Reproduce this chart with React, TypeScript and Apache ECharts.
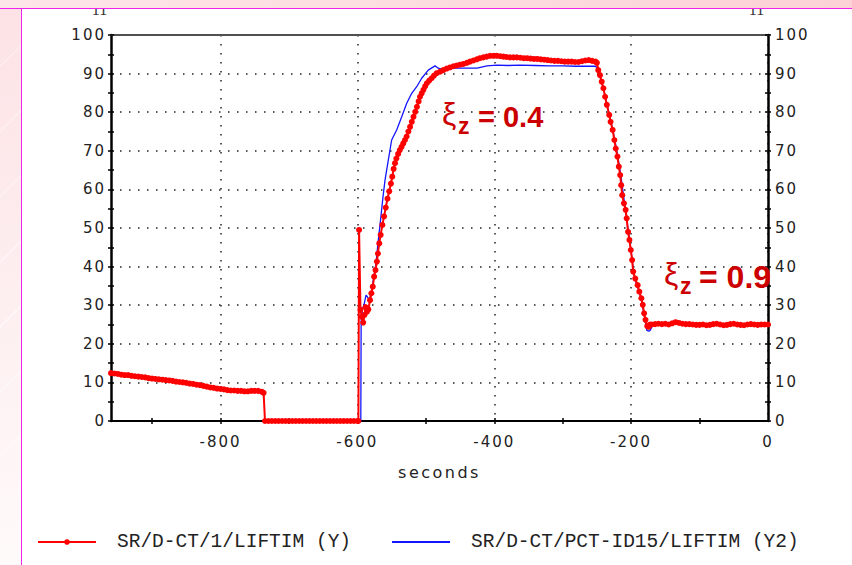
import React, { useEffect, useRef } from "react";
import * as echarts from "echarts";

// ---- data (seconds, lifetime) ----
const redSeries: [number, number][] = [
  [-960, 12.4], [-955, 12.3], [-950, 12.2], [-945, 12.0], [-940, 11.9], [-935, 11.9], [-930, 11.7], [-925, 11.6],
  [-920, 11.5], [-915, 11.4], [-910, 11.3], [-905, 11.1], [-900, 11.0], [-895, 10.9], [-890, 10.8], [-885, 10.7],
  [-880, 10.6], [-875, 10.5], [-870, 10.4], [-865, 10.2], [-860, 10.1], [-855, 10.0], [-850, 9.9], [-845, 9.7],
  [-840, 9.6], [-835, 9.4], [-830, 9.3], [-825, 9.1], [-820, 8.9], [-815, 8.7], [-810, 8.6], [-805, 8.4],
  [-800, 8.3], [-795, 8.2], [-790, 8.0], [-785, 7.9], [-780, 7.9], [-775, 7.8], [-770, 7.8], [-765, 7.7],
  [-760, 7.7], [-755, 7.8], [-750, 7.8], [-745, 7.8], [-740, 7.6], [-737, 7.3],
  [-735, 0], [-730, 0], [-725, 0], [-720, 0], [-715, 0], [-710, 0], [-705, 0], [-700, 0], [-695, 0], [-690, 0],
  [-685, 0], [-680, 0], [-675, 0], [-670, 0], [-665, 0], [-660, 0], [-655, 0], [-650, 0], [-645, 0], [-640, 0],
  [-635, 0], [-630, 0], [-625, 0], [-620, 0], [-615, 0], [-610, 0], [-605, 0], [-600, 0], [-598.5, 0],
  [-597.5, 49.5], [-595.5, 28.8], [-593.5, 27.0], [-591.5, 25.5], [-589.5, 27.5], [-588.0, 29.5], [-586.0, 28.3],
  [-584.0, 28.9], [-581.5, 31.3], [-579.5, 33.1], [-577.5, 34.8], [-575.5, 37.4], [-573.5, 39.1], [-571.5, 41.3],
  [-570.0, 43.4], [-568.0, 46.0], [-566.0, 48.2], [-563.5, 50.8], [-561.0, 53.0], [-558.5, 55.3], [-556.0, 57.6],
  [-553.5, 59.5], [-551.0, 61.5], [-549.0, 63.3], [-547.0, 65.3], [-545.0, 66.8], [-543.0, 68.0], [-540.5, 69.2],
  [-538.0, 70.2], [-535.5, 71.0], [-533.0, 71.9], [-530.5, 72.8], [-528.0, 73.7], [-525.5, 75.0], [-523.0, 76.2],
  [-520.5, 77.5], [-518.0, 78.8], [-515.5, 80.1], [-513.0, 81.4], [-510.5, 82.8], [-508.5, 84.0], [-506.0, 84.9],
  [-503.5, 85.8], [-501.0, 86.7], [-498.5, 87.5], [-495.0, 88.2], [-491.5, 88.8], [-488.0, 89.5], [-484.0, 90.1],
  [-479.0, 90.5], [-474.5, 90.9], [-469.5, 91.3], [-464.5, 91.6], [-459.5, 91.9], [-455.0, 92.1], [-450.0, 92.3],
  [-445.0, 92.5], [-440.0, 92.8], [-435.5, 93.1], [-430.5, 93.4], [-425.5, 93.7], [-421.0, 94.0], [-416.0, 94.2],
  [-411.0, 94.4], [-406.0, 94.6], [-401.0, 94.6], [-396.0, 94.6], [-391.0, 94.5], [-386.5, 94.4], [-382.0, 94.3],
  [-377.0, 94.2], [-372.0, 94.2], [-367.0, 94.2], [-362, 94.1], [-357, 94.0], [-352, 94.0], [-347, 93.9],
  [-342, 93.8], [-337, 93.8], [-332, 93.7], [-327, 93.6], [-322, 93.5], [-317, 93.4], [-312, 93.3], [-307, 93.3],
  [-302, 93.2], [-297, 93.1], [-292, 93.1], [-287, 93.1], [-282, 93.0], [-277, 93.0], [-272, 93.2], [-267, 93.4],
  [-262, 93.5], [-257, 93.3], [-252, 93.1],
  [-250.0, 92.8], [-248.0, 90.9], [-245.5, 89.6], [-243.0, 87.9], [-240.5, 86.2], [-238.0, 84.0], [-235.5, 81.9],
  [-232.0, 79.3], [-230.0, 77.5], [-227.0, 75.4], [-224.5, 72.8], [-222.5, 70.6], [-220.0, 68.5], [-218.0, 65.9],
  [-216.0, 63.7], [-214.5, 61.1], [-213.0, 58.5], [-210.5, 56.4], [-208.0, 54.7], [-206.5, 52.5], [-204.5, 49.0],
  [-202.5, 46.9], [-200.5, 44.3], [-198.5, 41.7], [-197.0, 38.7], [-194.0, 36.9], [-190.5, 35.2], [-188.0, 33.5],
  [-185.0, 31.8], [-183.0, 30.1], [-181.0, 27.9], [-179.0, 26.2], [-176.5, 24.6], [-174.5, 24.4], [-172.5, 25.0],
  [-170, 25.0], [-165, 25.1], [-160, 25.2], [-155, 25.1], [-150, 25.2], [-145, 25.0], [-140, 25.3], [-135, 25.6],
  [-130, 25.4], [-125, 25.2], [-120, 25.1], [-115, 25.1], [-110, 25.0], [-105, 24.9], [-100, 24.9], [-95, 25.0],
  [-90, 24.8], [-85, 24.9], [-80, 25.1], [-75, 25.2], [-70, 25.0], [-65, 24.8], [-60, 24.9], [-55, 25.1],
  [-50, 25.2], [-45, 25.0], [-40, 24.9], [-35, 24.8], [-30, 25.0], [-25, 25.1], [-20, 25.0], [-15, 24.9],
  [-10, 25.0], [-5, 25.0], [0, 25.0],
];

const blueSeries: [number, number][] = [
  [-595.0, 0], [-594.5, 25.7], [-592.8, 28.8], [-590.3, 30.1], [-587.4, 32.6], [-585.5, 32.2], [-582.6, 31.3],
  [-579.1, 33.9], [-576.7, 36.5], [-572.8, 40.9], [-569.4, 46.9], [-566.0, 52.3], [-562.6, 58.0], [-559.6, 62.4],
  [-554.8, 67.6], [-549.9, 72.8], [-542.6, 75.4], [-535.2, 78.8], [-527.9, 82.3], [-520.6, 84.9], [-513.3, 86.6],
  [-506.0, 88.8], [-496.4, 90.9], [-486.6, 92.0], [-481.8, 91.4], [-476.8, 91.1], [-464.7, 91.4], [-445.7, 91.4],
  [-425.2, 91.4], [-410.6, 92.0], [-396.0, 92.2], [-380, 92.1], [-362.4, 92.2], [-340, 92.1], [-320, 92.0],
  [-300, 92.0], [-280, 91.9], [-260, 91.9], [-252, 91.9],
  [-250, 91.5], [-245, 89.0], [-240, 85.8], [-235, 81.8], [-230, 78.0], [-225, 73.8], [-220, 69.2], [-215, 63.5],
  [-210, 57.0], [-205, 50.5], [-200, 44.0], [-197, 39.5], [-194, 36.5], [-190, 34.5], [-186, 32.0], [-182, 28.5],
  [-179, 25.5], [-177, 23.5], [-174, 23.3], [-172, 23.5], [-170, 24.3], [-167, 25.0], [-150, 25.1], [-130, 25.3],
  [-110, 25.0], [-90, 24.9], [-70, 25.0], [-50, 25.1], [-30, 25.0], [-10, 25.0], [0, 25.0],
];

const xRange = [-960, 0];
const yRange = [0, 100];
const xLabelValues = [-800, -600, -400, -200, 0];
const xMinorTickValues = [-900, -800, -700, -600, -500, -400, -300, -200, -100];
const seriesNames = ["SR/D-CT/1/LIFTIM (Y)", "SR/D-CT/PCT-ID15/LIFTIM (Y2)"];
const xTitle = "seconds";
const annotations = [
  { value: "0.4", x: 443, y: 117, size: 29, gap: 35 },
  { value: "0.9", x: 665, y: 277, size: 32, gap: 34 },
];
const cornerMarks = ["11", "11"];

const AXFONT = "DejaVu Sans";
const MONO = "Liberation Mono";
const TICKC = "#222";
const dotted = { type: [1.5, 7.5] as any, color: "#222", width: 1.5 };

function buildOption() {
  const yBase = {
    type: "value",
    min: yRange[0],
    max: yRange[1],
    interval: 10,
    splitLine: { show: false },
  };
  const xBase = {
    type: "value",
    min: xRange[0],
    max: xRange[1],
    splitLine: { show: false },
  };
  const annotationGraphics: any[] = [];
  annotations.forEach((a) => {
    annotationGraphics.push(
      {
        type: "text", x: a.x - 1, y: a.y - 3, z: 100,
        style: { text: "ξ", fontSize: 32, fontFamily: "Liberation Sans", fill: "#cc0000", align: "left", verticalAlign: "middle" },
      },
      {
        type: "text", x: a.x + 15, y: a.y + 9, z: 100,
        style: { text: "z", fontSize: 23, fontWeight: "bold", fontFamily: "Liberation Sans", fill: "#cc0000", align: "left", verticalAlign: "middle" },
      },
      {
        type: "text", x: a.x + a.gap, y: a.y, z: 100,
        style: { text: "= " + a.value, fontSize: a.size, fontWeight: "bold", fontFamily: "Liberation Sans", fill: "#cc0000", align: "left", verticalAlign: "middle" },
      }
    );
  });
  return {
    animation: false,
    backgroundColor: "transparent",
    grid: { left: 111, right: 84, top: 35, bottom: 144, containLabel: false },
    legend: {
      left: 37,
      top: 532,
      padding: 0,
      itemWidth: 58,
      itemHeight: 7,
      itemGap: 40,
      data: [
        { name: seriesNames[0] },
        { name: seriesNames[1], itemStyle: { color: "rgba(0,0,0,0)", borderWidth: 0 } },
      ],
      textStyle: { fontFamily: MONO, fontSize: 19.5, color: "#222", padding: [0, 0, 0, 16] },
    },
    xAxis: [
      {
        ...xBase,
        position: "bottom",
        axisLine: { show: true, onZero: false, lineStyle: { color: "#000", width: 2 } },
        axisTick: { show: false, customValues: xLabelValues },
        axisLabel: {
          color: TICKC, fontFamily: AXFONT, fontSize: 15, margin: 13,
          customValues: xLabelValues,
        },
        splitLine: { show: true, lineStyle: dotted },
        name: xTitle,
        nameLocation: "middle",
        nameGap: 43,
        nameTextStyle: { color: TICKC, fontFamily: AXFONT, fontSize: 16 },
      },
      {
        ...xBase,
        position: "bottom",
        axisLine: { show: false, onZero: false },
        axisTick: { show: true, length: 3, customValues: xMinorTickValues, lineStyle: { color: "#000", width: 1.5 } },
        axisLabel: { show: false },
      },
      {
        ...xBase,
        position: "bottom",
        axisLine: { show: false, onZero: false },
        axisTick: { show: true, inside: true, length: 3, customValues: xMinorTickValues, lineStyle: { color: "#000", width: 1.5 } },
        axisLabel: { show: false },
      },
      {
        ...xBase,
        position: "top",
        axisLine: { show: true, onZero: false, lineStyle: { color: "#505050", width: 2 } },
        axisTick: { show: false },
        axisLabel: { show: false },
      },
    ],
    yAxis: [
      {
        ...yBase,
        position: "left",
        axisLine: { show: true, onZero: false, lineStyle: { color: "#000", width: 2.5 } },
        axisTick: { show: true, length: 3, lineStyle: { color: "#000", width: 1.5 } },
        minorTick: { show: true, splitNumber: 2, length: 3, lineStyle: { color: "#000", width: 1.5 } },
        axisLabel: { color: TICKC, fontFamily: AXFONT, fontSize: 15, margin: 5 },
        splitLine: { show: true, lineStyle: dotted },
      },
      {
        ...yBase,
        position: "left",
        axisLine: { show: false, onZero: false },
        axisTick: { show: true, inside: true, length: 3, lineStyle: { color: "#000", width: 1.5 } },
        minorTick: { show: true, splitNumber: 2, length: 3, lineStyle: { color: "#000", width: 1.5 } },
        axisLabel: { show: false },
      },
      {
        ...yBase,
        position: "right",
        axisLine: { show: true, onZero: false, lineStyle: { color: "#000", width: 2.5 } },
        axisTick: { show: true, length: 3, lineStyle: { color: "#000", width: 1.5 } },
        minorTick: { show: true, splitNumber: 2, length: 3, lineStyle: { color: "#000", width: 1.5 } },
        axisLabel: { color: TICKC, fontFamily: AXFONT, fontSize: 15, margin: 7 },
      },
      {
        ...yBase,
        position: "right",
        axisLine: { show: false, onZero: false },
        axisTick: { show: true, inside: true, length: 3, lineStyle: { color: "#000", width: 1.5 } },
        minorTick: { show: true, splitNumber: 2, length: 3, lineStyle: { color: "#000", width: 1.5 } },
        axisLabel: { show: false },
      },
    ],
    graphic: [
      {
        type: "text", x: 99.5, y: 17, z: 50,
        style: { text: cornerMarks[0], fontSize: 16, fontFamily: "Liberation Serif", fill: "#333", align: "center", verticalAlign: "bottom" },
      },
      {
        type: "text", x: 756.5, y: 17, z: 50,
        style: { text: cornerMarks[1], fontSize: 16, fontFamily: "Liberation Serif", fill: "#333", align: "center", verticalAlign: "bottom" },
      },
      ...annotationGraphics,
    ],
    series: [
      {
        name: seriesNames[1],
        type: "line",
        xAxisIndex: 0,
        yAxisIndex: 2,
        data: blueSeries,
        symbol: "none",
        lineStyle: { color: "#1414ff", width: 1.3 },
        itemStyle: { color: "#1414ff" },
        z: 3,
      },
      {
        name: seriesNames[0],
        type: "line",
        xAxisIndex: 0,
        yAxisIndex: 0,
        data: redSeries,
        symbol: "circle",
        symbolSize: 6,
        showSymbol: true,
        showAllSymbol: true,
        lineStyle: { color: "#ff0000", width: 2 },
        itemStyle: { color: "#ff0000" },
        z: 4,
      },
    ],
  };
}

export default function App() {
  const ref = useRef<HTMLDivElement>(null);
  useEffect(() => {
    if (!ref.current) return;
    const chart = echarts.init(ref.current, null, { renderer: "svg" });
    chart.setOption(buildOption() as any);
    // widen the axis lettering a little (the original uses spaced glyphs)
    const texts = ref.current.querySelectorAll("text");
    texts.forEach((t) => {
      const st = (t.getAttribute("style") || "") + " " + (t.getAttribute("font-family") || "");
      if (st.indexOf("DejaVu") >= 0) {
        const content = t.textContent || "";
        (t as any).style.letterSpacing = content === xTitle ? "2.5px" : "2px";
      }
    });
    return () => chart.dispose();
  }, []);
  return (
    <div
      style={{
        position: "fixed", left: 0, top: 0, width: 852, height: 565, overflow: "hidden",
        background:
          "repeating-linear-gradient(135deg, rgba(255,255,255,0.35) 0px, rgba(255,255,255,0.35) 2px, rgba(255,255,255,0) 2px, rgba(255,255,255,0) 46px), linear-gradient(to bottom, #fde2e5 0%, #fdeff0 55%, #fffafa 100%)",
      }}
    >
      <div
        style={{
          position: "absolute", left: 21, top: 8, right: 0, bottom: 0, background: "#ffffff",
          borderLeft: "1.5px solid #ef22ef", borderTop: "1.5px solid #ef22ef",
        }}
      />
      <div ref={ref} style={{ position: "absolute", left: 0, top: 0, width: 852, height: 565 }} />
      <div
        style={{
          position: "absolute", left: 0, top: 0, width: 852, height: 8,
          background: "linear-gradient(to right, #fde6e8, #fcd2d6)",
          borderBottom: "1.5px solid #ef22ef",
        }}
      />
    </div>
  );
}
